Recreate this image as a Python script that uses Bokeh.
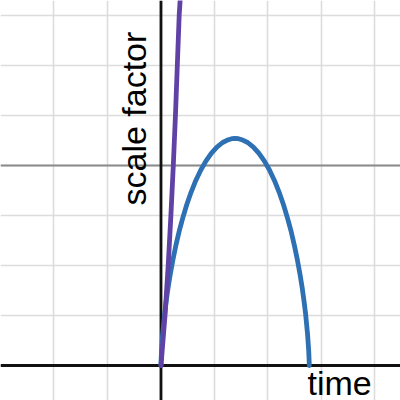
from math import pi
from bokeh.plotting import figure
from bokeh.models import Range1d, Span, Label, FixedTicker
from bokeh.embed import file_html
from bokeh.resources import INLINE

# closed-universe scale factor (blue)
blue_t = [0.0, 0.0001, 0.001, 0.009, 0.030, 0.070, 0.098, 0.133, 0.174, 0.222,
          0.276, 0.338, 0.406, 0.481, 0.562, 0.649, 0.742, 0.839, 0.940, 1.045,
          1.152, 1.261, 1.323, 1.386, 1.449, 1.510, 1.620, 1.727, 1.832, 1.933,
          2.030, 2.122, 2.209, 2.290, 2.365, 2.434, 2.495, 2.550, 2.598, 2.639,
          2.673, 2.702, 2.741, 2.762, 2.770, 2.7715, 2.772]
blue_a = [0.0, 0.003, 0.018, 0.069, 0.152, 0.261, 0.323, 0.389, 0.457, 0.527,
          0.598, 0.669, 0.737, 0.804, 0.866, 0.924, 0.976, 1.022, 1.061, 1.092,
          1.115, 1.129, 1.134, 1.135, 1.134, 1.129, 1.115, 1.092, 1.061, 1.022,
          0.976, 0.924, 0.866, 0.804, 0.737, 0.669, 0.598, 0.527, 0.457, 0.389,
          0.323, 0.261, 0.152, 0.069, 0.018, 0.003, 0.0]

# fast-expanding scale factor (purple)
purple_t = [0.0, 0.075, 0.135, 0.185, 0.230, 0.270, 0.305, 0.340, 0.375]
purple_a = [0.0, 0.25, 0.50, 0.75, 1.00, 1.25, 1.50, 1.75, 1.90]

x_grid = [-3, -2, -1, 0, 1, 2, 3, 4]
y_grid = [-0.25, 0.25, 0.5, 0.75, 1.0, 1.25, 1.5, 1.75]

x_label = "time"
y_label = "scale factor"

p = figure(width=400, height=400, output_backend="svg", toolbar_location=None,
           x_range=Range1d(-3.0, 4.477), y_range=Range1d(-0.175, 1.825),
           min_border=0, background_fill_color="white", border_fill_color="white")
p.outline_line_color = None
p.axis.visible = False
p.xgrid.ticker = FixedTicker(ticks=x_grid)
p.ygrid.ticker = FixedTicker(ticks=y_grid)
p.grid.grid_line_color = "#dcdcdc"
p.grid.grid_line_width = 1.6

p.add_layout(Span(location=1.0, dimension="width", line_color="#8a8a8a",
                  line_width=1.8, level="underlay"))
p.add_layout(Span(location=0, dimension="width", line_color="#111111",
                  line_width=2.8, level="underlay"))
p.add_layout(Span(location=0, dimension="height", line_color="#111111",
                  line_width=2.8, level="underlay"))

p.line(blue_t, blue_a, line_color="#2d70b3", line_width=4.8, line_cap="round",
       line_join="round")
p.line(purple_t, purple_a, line_color="#6042a6", line_width=4.8, line_cap="round",
       line_join="round")

p.add_layout(Label(x=2.738, y=-0.085, text=x_label, text_font="Liberation Sans",
                   text_font_size="34px", text_color="#000000",
                   text_align="left", text_baseline="alphabetic"))
p.add_layout(Label(x=-0.51, y=0.80, text=y_label, text_font="Liberation Sans",
                   text_font_size="34px", text_color="#000000", angle=pi / 2,
                   text_align="left", text_baseline="alphabetic"))

open("out.html", "w").write(file_html(p, INLINE))
